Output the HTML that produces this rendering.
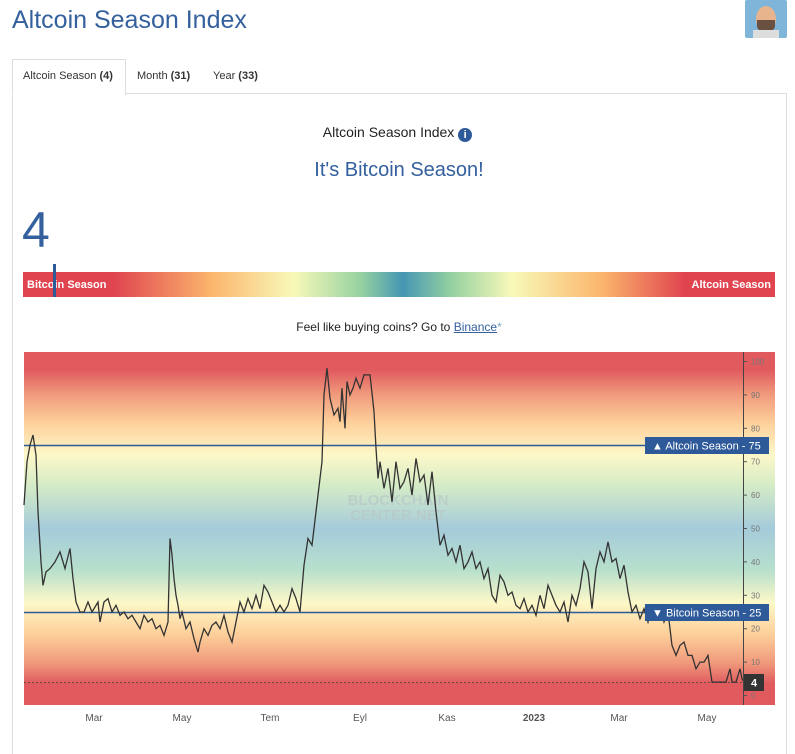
<!DOCTYPE html>
<html><head><meta charset="utf-8"><style>
body{margin:0;width:795px;height:746px;background:#fff;font-family:"Liberation Sans",Arial,sans-serif;position:relative;overflow:hidden}
.abs{position:absolute}
h1{position:absolute;left:12px;top:6px;margin:0;font-size:25px;font-weight:normal;color:#34609e}
.tab{position:absolute;top:60px;height:33px;font-size:11px;color:#333;line-height:33px}
</style></head><body>
<h1>Altcoin Season Index</h1>
<div class="abs" style="left:745px;top:0;width:42px;height:38px;background:#7fb5d9;border-radius:2px;overflow:hidden">
 <div class="abs" style="left:11px;top:6px;width:20px;height:26px;background:#e8b48e;border-radius:50%"></div>
 <div class="abs" style="left:12px;top:20px;width:18px;height:12px;background:#6a5040;border-radius:0 0 50% 50%"></div>
 <div class="abs" style="left:8px;top:30px;width:26px;height:10px;background:#ddd"></div>
</div>
<div class="abs" style="left:12px;top:93px;width:773px;height:660px;border-left:1px solid #ddd;border-right:1px solid #ddd;border-top:1px solid #ddd"></div>
<div class="abs" style="left:12px;top:59px;width:112px;height:35px;border:1px solid #ddd;border-bottom:1px solid #fff;background:#fff"></div>
<div class="tab" style="left:23px">Altcoin Season <b>(4)</b></div>
<div class="tab" style="left:137px">Month <b>(31)</b></div>
<div class="tab" style="left:213px">Year <b>(33)</b></div>
<div class="abs" style="left:0;width:795px;top:124px;text-align:center;font-size:14px;color:#222">Altcoin Season Index <span style="display:inline-block;width:14px;height:14px;border-radius:50%;background:#2f5a9a;color:#fff;font-size:11px;line-height:14px;font-weight:bold;vertical-align:-1px">i</span></div>
<div class="abs" style="left:0;width:798px;top:159px;text-align:center;font-size:20px;color:#34609e">It's Bitcoin Season!</div>
<div class="abs" style="left:22px;top:200px;font-size:50px;color:#34609e;line-height:60px">4</div>
<div class="abs" style="left:23px;top:272px;width:752px;height:25px;background:linear-gradient(90deg,#e0444f 0%,#e0444f 12%,#fbb56c 25%,#f8f9b9 36%,#95d1a0 45%,#4596b4 50.5%,#95d1a0 57%,#f8f9b9 65%,#fbb56c 77%,#e0444f 88%,#e0444f 100%)"></div>
<div class="abs" style="left:27px;top:279px;font-size:11px;color:#fff;font-weight:bold">Bitcoin Season</div>
<div class="abs" style="right:24px;top:279px;font-size:11px;color:#fff;font-weight:bold">Altcoin Season</div>
<div class="abs" style="left:53px;top:264px;width:3px;height:33px;background:#2f5a9a"></div>
<div class="abs" style="left:0;width:798px;top:320px;text-align:center;font-size:12px;color:#222">Feel like buying coins? Go to <span style="color:#34609e;text-decoration:underline">Binance</span><span style="color:#7ab">*</span></div>
<svg class="abs" style="left:0;top:0" width="795" height="746">
<defs><linearGradient id="g" x1="0" y1="352" x2="0" y2="705" gradientUnits="userSpaceOnUse">
<stop offset="0" stop-color="#e05a5e"/><stop offset="0.05" stop-color="#e05a5e"/>
<stop offset="0.12" stop-color="#f09a7c"/><stop offset="0.2" stop-color="#fdcf9a"/>
<stop offset="0.29" stop-color="#fdf8c8"/><stop offset="0.38" stop-color="#d4ebc6"/>
<stop offset="0.5" stop-color="#a5cbdb"/><stop offset="0.62" stop-color="#b8e0cc"/>
<stop offset="0.71" stop-color="#fdf8c8"/><stop offset="0.8" stop-color="#fdcf9a"/>
<stop offset="0.88" stop-color="#f09a7c"/><stop offset="0.94" stop-color="#e05a5e"/><stop offset="1" stop-color="#e05a5e"/>
</linearGradient></defs>
<rect x="24" y="352" width="751" height="353" fill="url(#g)"/>
<text x="398" y="505" text-anchor="middle" font-size="15" font-weight="bold" fill="#b7c7c7" fill-opacity="0.7" font-family="Liberation Sans">BLOCKCHAIN</text>
<text x="398" y="520" text-anchor="middle" font-size="15" font-weight="bold" fill="#b7c7c7" fill-opacity="0.7" font-family="Liberation Sans">CENTER.NET</text>
<line x1="24" y1="445.5" x2="749" y2="445.5" stroke="#2f5a9a" stroke-width="1.5"/>
<line x1="24" y1="612.5" x2="749" y2="612.5" stroke="#2f5a9a" stroke-width="1.5"/>
<line x1="24" y1="682.5" x2="749" y2="682.5" stroke="#444" stroke-width="0.8" stroke-dasharray="2,2"/>
<polyline id="ser" fill="none" stroke="#333" stroke-width="1.3"/>
<line x1="743.5" y1="352" x2="743.5" y2="705" stroke="#444"/>
<g id="yt" font-size="8" fill="#777" font-family="Liberation Sans"></g>
<rect x="645" y="437" width="124" height="17" fill="#2f5a9a"/>
<text x="652" y="449.5" font-size="11" fill="#fff" font-family="Liberation Sans">▲ Altcoin Season - 75</text>
<rect x="645" y="604" width="124" height="17" fill="#2f5a9a"/>
<text x="652" y="616.5" font-size="11" fill="#fff" font-family="Liberation Sans">▼ Bitcoin Season - 25</text>
<rect x="744" y="674" width="20" height="17" fill="#333"/>
<text x="754" y="686.5" font-size="11" fill="#fff" text-anchor="middle" font-weight="bold" font-family="Liberation Sans">4</text>
<g font-size="10" fill="#555" text-anchor="middle" font-family="Liberation Sans">
<text x="94" y="721">Mar</text><text x="182" y="721">May</text><text x="270" y="721">Tem</text><text x="360" y="721">Eyl</text><text x="447" y="721">Kas</text><text x="534" y="721" font-weight="bold">2023</text><text x="619" y="721">Mar</text><text x="707" y="721">May</text>
</g>
</svg>
<script>
var d=[24,57,27,70,30,75,33,78,36,72,38,55,41,40,43,33,46,37,50,38,55,40,60,43,65,38,70,44,73,35,76,28,80,25,84,25,88,28,92,25,98,28,100,22,104,28,108,29,112,25,116,27,120,24,124,25,128,23,132,24,136,22,140,20,144,24,148,22,152,23,156,20,160,21,164,18,168,22,170,47,172,42,174,35,176,30,178,27,180,23,182,25,186,20,190,22,194,17,198,13,200,16,204,20,208,18,212,21,216,22,220,20,224,24,228,19,232,16,236,22,240,28,244,25,248,29,252,26,256,30,260,26,264,33,268,31,272,28,276,25,280,27,284,25,288,27,292,32,296,29,300,25,304,39,308,47,312,45,314,50,318,60,322,70,324,90,327,98,330,89,334,84,338,86,340,82,342,92,345,80,347,94,350,90,353,92,356,95,360,92,364,96,370,96,374,85,376,74,378,65,380,70,384,62,388,68,392,58,396,70,400,62,404,64,408,68,412,60,416,71,420,64,424,66,428,57,432,67,436,55,440,45,444,48,448,42,452,44,456,40,460,45,464,38,468,40,472,43,476,38,480,40,484,35,488,38,492,30,496,28,500,36,504,34,508,30,512,31,516,27,520,26,524,29,528,25,532,27,536,24,540,30,544,26,548,33,552,30,556,27,560,25,564,28,568,22,572,30,576,27,580,32,584,40,588,37,592,26,596,38,600,43,604,40,608,46,612,40,616,41,620,35,624,39,628,31,632,25,636,27,640,23,644,26,648,22,652,27,656,25,660,27,664,22,668,25,672,15,676,12,680,15,684,16,688,12,692,12,696,8,700,10,704,10,708,12,712,4,720,4,726,4,730,8,732,4,736,4,740,8,742,5,744,4];
var p=[];for(var i=0;i<d.length;i+=2){p.push(d[i]+","+(695.5-3.34*d[i+1]).toFixed(1));}
document.getElementById('ser').setAttribute('points',p.join(' '));
var g=document.getElementById('yt'),s='';
for(var v=0;v<=100;v+=10){var y=695.5-3.34*v;s+='<line x1="743" x2="747" y1="'+y+'" y2="'+y+'" stroke="#555"/><text x="751" y="'+(y+3)+'">'+v+'</text>';}
g.innerHTML=s;
</script>
</body></html>
